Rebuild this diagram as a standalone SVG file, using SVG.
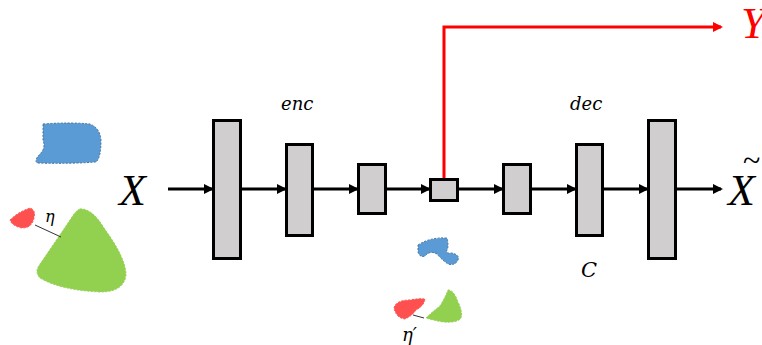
<svg xmlns="http://www.w3.org/2000/svg" width="762" height="345" viewBox="0 0 762 345">
<defs>
<style>
.box{fill:#d0cece;stroke:#000;stroke-width:3}
.ar{stroke:#000;stroke-width:3;fill:none;marker-end:url(#ah)}
.lbl{font-family:"DejaVu Serif","Liberation Serif",serif;font-style:italic;fill:#000}
.big{font-family:"Liberation Serif",serif;font-style:italic}
.blob{stroke-width:1;stroke-dasharray:2 1.5}
</style>
<marker id="ah" markerWidth="10" markerHeight="10" refX="8" refY="5" orient="auto" markerUnits="userSpaceOnUse" viewBox="0 0 10 10"><path d="M0,0 L10,5 L0,10 z" fill="#000"/></marker>
<marker id="ahr" markerWidth="10" markerHeight="10" refX="8" refY="5" orient="auto" markerUnits="userSpaceOnUse" viewBox="0 0 10 10"><path d="M0,0 L10,5 L0,10 z" fill="#f00"/></marker>
</defs>
<g id="blobs">
<path class="blob" d="M43,124 Q70,122 90,124 Q100,128 101,140 Q101,158 96,162 Q70,164 37,163 Q34,160 40,154 Q46,148 43,140 Z" fill="#5b9bd5" stroke="#41719c"/>
<path class="blob" d="M10,220 Q18,212 30,208 Q36,210 34,218 Q32,228 22,228 Q12,226 10,220 Z" fill="#ff5050" stroke="#ff5050"/>
<path class="blob" d="M80,209 Q92,208 104,228 Q126,258 126,275 Q124,292 100,292 Q60,290 40,278 Q34,272 40,264 Q58,238 74,214 Q77,210 80,209 Z" fill="#92d050" stroke="#92d050"/>
<line x1="35" y1="225" x2="61" y2="237" stroke="#333" stroke-width="1"/>
<text x="45" y="222" class="lbl" font-size="16">η</text>
<path class="blob" d="M418,245 Q430,237 447,238 Q449,246 447,250 Q445,254 452,253 Q460,255 458,260 Q455,266 448,264 Q442,260 437,254 Q430,250 425,256 Q420,258 418,252 Z" fill="#5b9bd5" stroke="#41719c"/>
<path class="blob" d="M394,308 Q396,300 410,300 Q420,298 425,299 Q424,306 416,310 Q412,316 405,319 Q396,318 394,308 Z" fill="#ff5050" stroke="#ff5050"/>
<path class="blob" d="M448,290 Q454,290 458,302 Q463,312 461,318 Q458,323 443,322 Q432,320 426,318 Q432,312 440,306 Q446,296 448,290 Z" fill="#92d050" stroke="#92d050"/>
<line x1="413" y1="315" x2="424" y2="318" stroke="#333" stroke-width="1"/>
<text x="402" y="341" class="lbl" font-size="18">η′</text>
</g>
<g id="connectors">
<line class="ar" x1="168" y1="189" x2="212" y2="189"/>
<line class="ar" x1="242" y1="189" x2="285" y2="189"/>
<line class="ar" x1="314" y1="189" x2="357" y2="189"/>
<line class="ar" x1="387" y1="189" x2="429" y2="189"/>
<line class="ar" x1="459" y1="189" x2="502" y2="189"/>
<line class="ar" x1="531" y1="189" x2="575" y2="189"/>
<line class="ar" x1="604" y1="189" x2="647" y2="189"/>
<line class="ar" x1="677" y1="189" x2="721" y2="189"/>
<polyline points="444,178 444,27 721,27" fill="none" stroke="#f00" stroke-width="3" marker-end="url(#ahr)"/>
</g>
<g id="n1"><rect class="box" x="213.5" y="120.5" width="27" height="138"/></g>
<g id="n2"><rect class="box" x="286.5" y="144.5" width="26" height="91"/></g>
<g id="n3"><rect class="box" x="358.5" y="164.5" width="27" height="49"/></g>
<g id="n4"><rect class="box" x="430.5" y="179.5" width="27" height="21"/></g>
<g id="n5"><rect class="box" x="503.5" y="164.5" width="27" height="49"/></g>
<g id="n6"><rect class="box" x="576.5" y="144.5" width="26" height="91"/></g>
<g id="n7"><rect class="box" x="648.5" y="120.5" width="27" height="138"/></g>
<g id="labels">
<text x="119" y="205" class="big" font-size="44">X</text>
<text x="728" y="205" class="big" font-size="44">X</text>
<text x="743" y="171" font-family="Liberation Serif,serif" font-size="32">~</text>
<text x="741" y="38" class="big" font-size="44" fill="#f00">Y</text>
<text x="281" y="110" class="lbl" font-size="18">enc</text>
<text x="570" y="110" class="lbl" font-size="18">dec</text>
<text x="581" y="277" class="lbl" font-size="21">C</text>
</g>
</svg>
